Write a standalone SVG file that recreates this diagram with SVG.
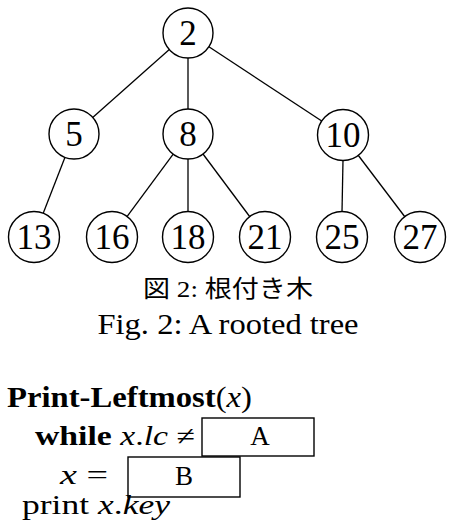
<svg xmlns="http://www.w3.org/2000/svg" width="455" height="530" viewBox="0 0 455 530">
<style>
.node circle{fill:#fff;stroke:#000;stroke-width:1.4}
.node text{font-family:"Liberation Serif",serif;font-size:35px;text-anchor:middle;fill:#000}
#edges line{stroke:#000;stroke-width:1.3}
.t{font-family:"Liberation Serif",serif;fill:#000}
.b{font-weight:bold}
.i{font-style:italic}
.box{fill:none;stroke:#000;stroke-width:1.4}
</style>
<rect width="455" height="530" fill="#fff"/>
<g id="edges">
<line x1="169.3" y1="49.6" x2="92.7" y2="117.4"/>
<line x1="188" y1="58" x2="188" y2="109"/>
<line x1="208.9" y1="46.7" x2="322.1" y2="121.3"/>
<line x1="65" y1="157.3" x2="43" y2="213.7"/>
<line x1="173.2" y1="154.1" x2="126.8" y2="216.9"/>
<line x1="188" y1="159" x2="188" y2="212"/>
<line x1="203" y1="154" x2="250" y2="217"/>
<line x1="343" y1="160" x2="342" y2="212"/>
<line x1="358" y1="155" x2="405" y2="217"/>
</g>
<g id="n2" class="node"><circle cx="188" cy="33" r="25"/><text x="188" y="45">2</text></g>
<g id="n5" class="node"><circle cx="74" cy="134" r="25"/><text x="74" y="146">5</text></g>
<g id="n8" class="node"><circle cx="188" cy="134" r="25"/><text x="188" y="146">8</text></g>
<g id="n10" class="node"><circle cx="343" cy="135" r="25.5"/><text x="343" y="147">10</text></g>
<g id="n13" class="node"><circle cx="34" cy="237" r="25.5"/><text x="34" y="249">13</text></g>
<g id="n16" class="node"><circle cx="112" cy="237" r="25.5"/><text x="112" y="249">16</text></g>
<g id="n18" class="node"><circle cx="188" cy="237" r="25.5"/><text x="188" y="249">18</text></g>
<g id="n21" class="node"><circle cx="265" cy="237" r="25.5"/><text x="265" y="249">21</text></g>
<g id="n25" class="node"><circle cx="342" cy="237" r="25.5"/><text x="342" y="249">25</text></g>
<g id="n27" class="node"><circle cx="420" cy="237" r="25.5"/><text x="420" y="249">27</text></g>
<g id="caption">
<text class="t" x="228" y="297" font-size="24" text-anchor="middle" textLength="170" lengthAdjust="spacingAndGlyphs" style="font-family:'Liberation Serif','Noto Sans CJK JP',serif">図 2: 根付き木</text>
<text class="t" x="228" y="334" font-size="30" text-anchor="middle" textLength="261" lengthAdjust="spacingAndGlyphs">Fig. 2: A rooted tree</text>
</g>
<g id="code" class="t" font-size="27">
<text x="7" y="407" font-size="29" textLength="245" lengthAdjust="spacingAndGlyphs"><tspan class="b">Print-Leftmost</tspan>(<tspan class="i">x</tspan>)</text>
<text x="35" y="445" textLength="160" lengthAdjust="spacingAndGlyphs"><tspan class="b">while</tspan> <tspan class="i">x</tspan>.<tspan class="i">lc</tspan> ≠</text>
<rect class="box" x="202" y="418" width="112" height="38"/>
<text x="260" y="445" text-anchor="middle">A</text>
<text x="60" y="484" textLength="48" lengthAdjust="spacingAndGlyphs"><tspan class="i">x</tspan> =</text>
<rect class="box" x="128" y="457" width="112" height="40"/>
<text x="184" y="485" text-anchor="middle">B</text>
<text x="22" y="514" textLength="148" lengthAdjust="spacingAndGlyphs">print <tspan class="i">x</tspan>.<tspan class="i">key</tspan></text>
</g>
</svg>
